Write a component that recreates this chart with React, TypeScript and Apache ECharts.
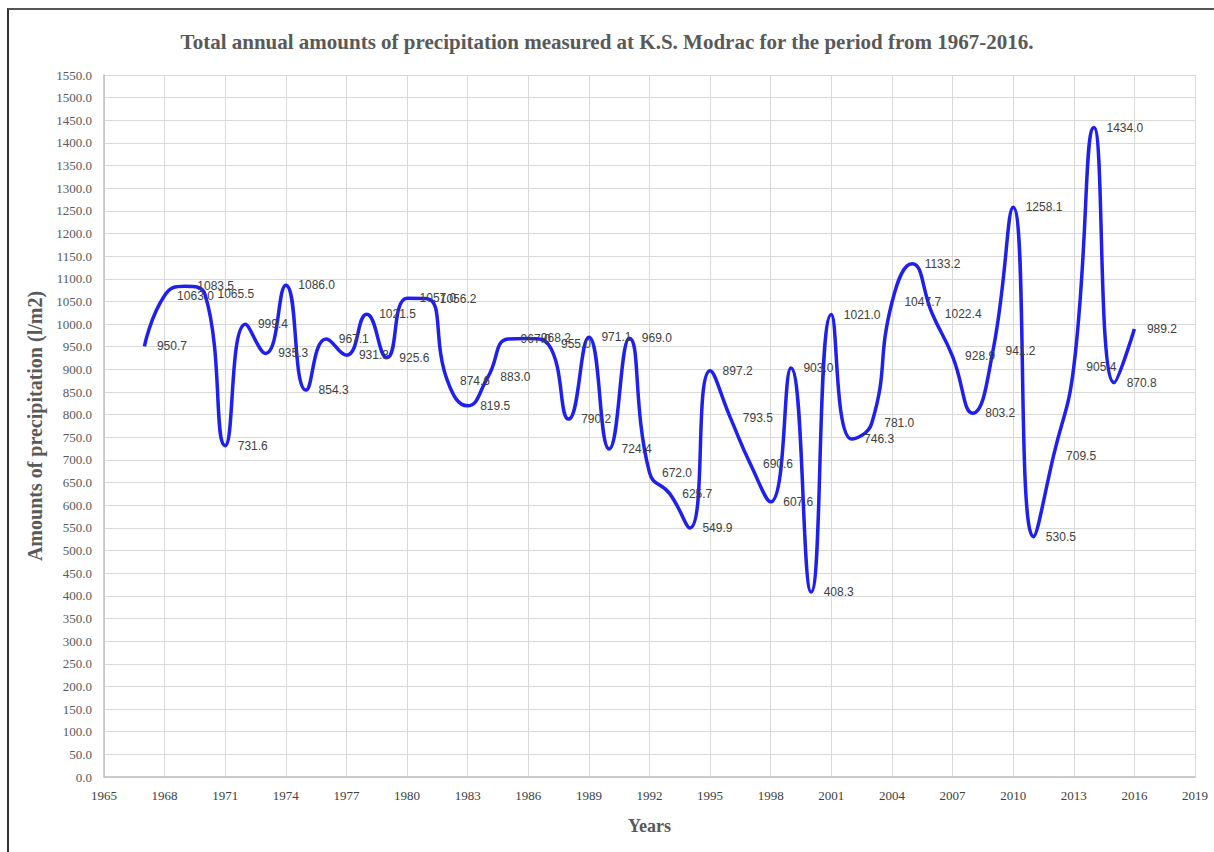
import React, { useEffect, useRef } from "react";
import * as echarts from "echarts";

const years: number[] = [
  1967, 1968, 1969, 1970, 1971, 1972, 1973, 1974, 1975, 1976,
  1977, 1978, 1979, 1980, 1981, 1982, 1983, 1984, 1985, 1986,
  1987, 1988, 1989, 1990, 1991, 1992, 1993, 1994, 1995, 1996,
  1997, 1998, 1999, 2000, 2001, 2002, 2003, 2004, 2005, 2006,
  2007, 2008, 2009, 2010, 2011, 2012, 2013, 2014, 2015, 2016,
];

const precipitation: number[] = [
  950.7, 1063.0, 1083.5, 1065.5, 731.6, 999.4, 935.3, 1086.0, 854.3, 967.1,
  931.3, 1021.5, 925.6, 1057.0, 1056.2, 874.6, 819.5, 883.0, 967.0, 968.2,
  955.0, 790.2, 971.1, 724.4, 969.0, 672.0, 625.7, 549.9, 897.2, 793.5,
  690.6, 607.6, 903.0, 408.3, 1021.0, 746.3, 781.0, 1047.7, 1133.2, 1022.4,
  928.9, 803.2, 941.2, 1258.1, 530.5, 709.5, 905.4, 1434.0, 870.8, 989.2,
];

const titleText =
  "Total annual amounts of precipitation measured at K.S. Modrac for the period from 1967-2016.";
const xAxisName = "Years";
const yAxisName = "Amounts of precipitation (l/m2)";

const SERIF = "'Liberation Serif', 'Times New Roman', serif";
const SANS = "'Liberation Sans', Arial, sans-serif";

export default function App() {
  const ref = useRef<HTMLDivElement>(null);

  useEffect(() => {
    if (!ref.current) return;
    const chart = echarts.init(ref.current, undefined, { renderer: "svg" });
    const data = years.map((y, i) => [y, precipitation[i]]);
    chart.setOption({
      animation: false,
      backgroundColor: "#ffffff",
      title: {
        text: titleText,
        left: "center",
        top: 26,
        textStyle: {
          fontFamily: SERIF,
          fontWeight: "bold",
          fontSize: 21,
          color: "#595959",
        },
      },
      grid: { left: 104, right: 19, top: 75, bottom: 75 },
      xAxis: {
        type: "value",
        min: 1965,
        max: 2019,
        interval: 3,
        name: xAxisName,
        nameLocation: "middle",
        nameGap: 40,
        nameTextStyle: {
          fontFamily: SERIF,
          fontWeight: "bold",
          fontSize: 18,
          color: "#595959",
        },
        axisLine: { show: true, lineStyle: { color: "#bfbfbf", width: 1.5 } },
        axisTick: { show: false },
        axisLabel: {
          formatter: (v: number) => String(v),
          fontFamily: SERIF,
          fontSize: 13,
          color: "#404040",
          margin: 12,
        },
        splitLine: { show: true, lineStyle: { color: "#d9d9d9", width: 1 } },
      },
      yAxis: {
        type: "value",
        min: 0,
        max: 1550,
        interval: 50,
        name: yAxisName,
        nameLocation: "middle",
        nameGap: 56,
        nameTextStyle: {
          fontFamily: SERIF,
          fontWeight: "bold",
          fontSize: 20,
          color: "#595959",
        },
        axisLine: { show: true, lineStyle: { color: "#bfbfbf", width: 1.5 } },
        axisTick: { show: false },
        axisLabel: {
          formatter: (v: number) => v.toFixed(1),
          fontFamily: SERIF,
          fontSize: 13,
          color: "#595959",
          margin: 12,
        },
        splitLine: { show: true, lineStyle: { color: "#d9d9d9", width: 1 } },
      },
      series: [
        {
          type: "line",
          data,
          smooth: 0.5,
          symbol: "circle",
          symbolSize: 1,
          showSymbol: true,
          itemStyle: { color: "rgba(0,0,0,0)", borderWidth: 0 },
          lineStyle: { color: "#1f1fef", width: 3.5 },
          label: {
            show: true,
            position: "right",
            distance: 12,
            formatter: (p: any) => Number(p.value[1]).toFixed(1),
            fontFamily: SANS,
            fontSize: 12,
            color: "#404040",
            opacity: 1,
          },
          labelLayout: { hideOverlap: false },
        },
      ],
    });
    return () => chart.dispose();
  }, []);

  return (
    <div style={{ position: "fixed", left: 0, top: 0, width: 1214, height: 852, background: "#fff" }}>
      <div ref={ref} style={{ position: "absolute", left: 0, top: 0, width: 1214, height: 852 }} />
      <div
        style={{
          position: "absolute",
          left: 7,
          top: 8,
          width: 1214,
          height: 900,
          borderLeft: "2px solid #333",
          borderTop: "2px solid #555",
          pointerEvents: "none",
        }}
      />
    </div>
  );
}
